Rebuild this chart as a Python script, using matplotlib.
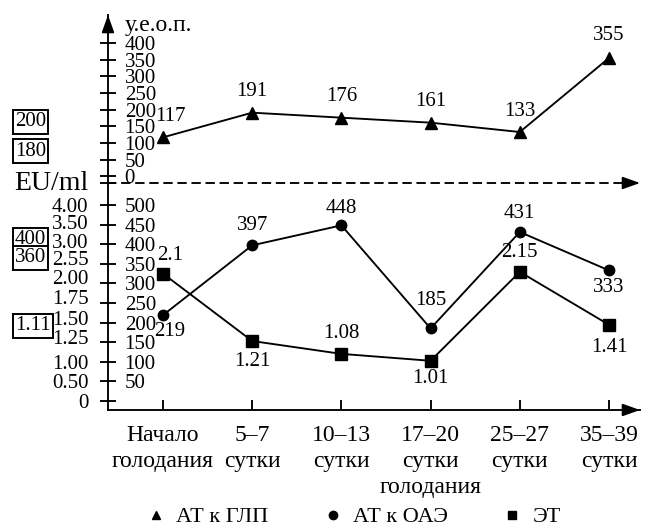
import numpy as np
import matplotlib
matplotlib.use('Agg')
import matplotlib.pyplot as plt
from matplotlib.lines import Line2D

plt.rcParams['font.family'] = ['Liberation Serif', 'DejaVu Serif']
plt.rcParams['font.size'] = 15

categories = ['Начало\nголодания', '5–7\nсутки', '10–13\nсутки',
              '17–20\nсутки\nголодания', '25–27\nсутки', '35–39\nсутки']
glp = [117, 191, 176, 161, 133, 355]          # АТ к ГЛП, у.е.о.п.
oae = [219, 397, 448, 185, 431, 333]          # АТ к ОАЭ
et = [2.1, 1.21, 1.08, 1.01, 2.15, 1.41]      # ЭТ, EU/ml

glp_ticks = [0, 50, 100, 150, 200, 250, 300, 350, 400]
oae_ticks = [0, 50, 100, 150, 200, 250, 300, 350, 400, 450, 500]
oae_tick_labels = [''] + [str(v) for v in oae_ticks[1:]]
et_ticks = [0, 0.5, 1.0, 1.25, 1.5, 1.75, 2.0, 2.55, 3.0, 3.5, 4.0]
et_tick_labels = ['0', '0.50', '1.00', '1.25', '1.50', '1.75', '2.00',
                  '2.55', '3.00', '3.50', '4.00']
# where the uneven ET ticks sit against the ОАЭ scale
et_tick_pos = [0, 50, 100, 163, 212, 265, 316, 365, 408, 457, 500]

legend_names = ['АТ к ГЛП', 'АТ к ОАЭ', 'ЭТ']

# label offsets (points) next to each marker
glp_off = [(5, 15), (0, 15), (0, 15), (0, 15), (0, 15), (0, 16)]
oae_off = [(5, -12), (0, 14), (0, 12), (0, 20), (0, 13), (0, -12)]
et_off = [(5, 13), (0, -15), (0, 15), (0, -13), (0, 14), (0, -16)]

kx = np.array([-1.0] + et_ticks + [5.0])
ky = np.array([-100.0] + et_tick_pos + [586.0])


def et_fwd(v):
    return np.interp(v, kx, ky)


def et_inv(p):
    return np.interp(p, ky, kx)


W, H = 647, 529
fig = plt.figure(figsize=(W / 100, H / 100), dpi=100)
L, R = 108 / W, 640 / W
ax_b = fig.add_axes([L, (H - 410) / H, R - L, (410 - 183) / H])
ax_t = fig.add_axes([L, (H - 183) / H, R - L, (183 - 15) / H], sharex=ax_b)

x = np.arange(len(categories))
ax_b.set_xlim(-(163 - 108) / 89.2, (640 - 163) / 89.2)
ax_b.set_ylim(-23, 556)
ax_t.set_ylim(-20, 484)

ax_e = ax_b.twinx()
ax_e.set_yscale('function', functions=(et_fwd, et_inv))
ax_e.set_ylim(et_inv(-23), et_inv(556))

lw = 1.35
ax_t.plot(x, glp, color='k', lw=lw, marker='^', ms=9, clip_on=False)
ax_b.plot(x, oae, color='k', lw=lw, marker='o', ms=7.5, clip_on=False)
ax_e.plot(x, et, color='k', lw=lw, marker='s', ms=8, clip_on=False)

for ax, vals, offs in [(ax_t, glp, glp_off), (ax_b, oae, oae_off), (ax_e, et, et_off)]:
    for xi, v, o in zip(x, vals, offs):
        ax.annotate(str(v), (xi, v), xytext=o, textcoords='offset points',
                    ha='center', va='center')

# spines
for ax in (ax_b, ax_t):
    ax.spines['top'].set_visible(False)
    ax.spines['right'].set_visible(False)
    ax.spines['left'].set_linewidth(lw)
    ax.spines['bottom'].set_linewidth(lw)
for s in ax_e.spines.values():
    s.set_visible(False)
ax_t.spines['bottom'].set_linestyle((0, (4, 3.5)))
ax_t.patch.set_visible(False)

# y ticks, labels on the right side of the spine
ax_t.set_yticks(glp_ticks)
ax_t.set_yticks([-20], minor=True)
ax_t.tick_params(axis='y', which='both', direction='inout', length=12, width=lw, pad=-18)
ax_t.tick_params(axis='x', bottom=False, labelbottom=False)
plt.setp(ax_t.get_yticklabels(), ha='left')

ax_b.set_yticks(oae_ticks, oae_tick_labels)
ax_b.tick_params(axis='y', direction='inout', length=12, width=lw, pad=-18)
plt.setp(ax_b.get_yticklabels(), ha='left')

ax_e.yaxis.tick_left()
ax_e.set_yticks(et_ticks, et_tick_labels)
ax_e.minorticks_off()
ax_e.tick_params(axis='y', length=0, pad=14)

ax_b.set_xticks(x, categories)
ax_b.tick_params(axis='x', direction='in', length=7, width=lw, pad=11, labelsize=17)
plt.setp(ax_b.get_xticklabels(), linespacing=1.3)

# arrow heads
arr = dict(arrowstyle='-|>,head_length=0.7,head_width=0.25', color='k', lw=lw,
           shrinkA=0, shrinkB=0)
ax_t.annotate('', xy=(0, 1), xytext=(0, 0.97), xycoords='axes fraction', arrowprops=arr)
ax_t.annotate('', xy=(1, 0), xytext=(0.99, 0), xycoords='axes fraction', arrowprops=arr)
ax_b.annotate('', xy=(1, 0), xytext=(0.98, 0), xycoords='axes fraction', arrowprops=arr)

ax_t.text(0.032, 0.94, 'у.е.о.п.', transform=ax_t.transAxes, ha='left', va='center', fontsize=17)

# left side notes
box = dict(boxstyle='square,pad=0.1', fc='white', ec='k', lw=1.4)
for txt, yp in [('200', 122), ('180', 151), ('400', 240), ('360', 258), ('1.11', 326)]:
    fig.text(15 / W, 1 - yp / H, txt, ha='left', va='center', bbox=box)
fig.text(14 / W, 1 - 183 / H, 'EU/ml', ha='left', va='center', fontsize=20)

handles = [Line2D([], [], ls='none', color='k', marker=m, ms=s)
           for m, s in [('^', 6), ('o', 6), ('s', 6)]]
fig.legend(handles, legend_names, loc='center', bbox_to_anchor=(354 / W, 12 / H),
           ncol=3, frameon=False, fontsize=16, handlelength=0.8,
           handletextpad=0.5, columnspacing=2.5, borderaxespad=0, borderpad=0)

fig.savefig('out.png', dpi=100)
